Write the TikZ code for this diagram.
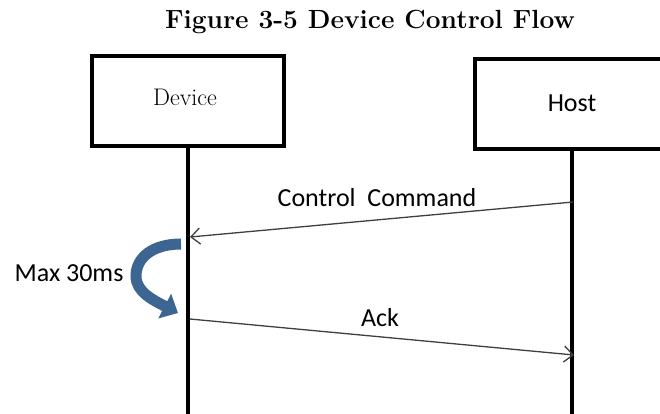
\documentclass[tikz,border=0pt]{standalone}
\usepackage{fontspec}
\newfontfamily\calibri{Carlito}
\usetikzlibrary{arrows.meta}
\definecolor{curveblue}{HTML}{3D6592}
\definecolor{msggray}{HTML}{3F3F3F}
\begin{document}
\begin{tikzpicture}[x=1pt, y=-1pt,
	actor/.style={draw, line width=4pt, minimum width=192pt, minimum height=90pt, inner sep=0pt},
	life/.style={line width=4.5pt},
	msg/.style={draw=msggray, line width=1.3pt, -{Straight Barb[length=9pt, width=16pt, line width=1.3pt]}},
	lbl/.style={font=\calibri\fontsize{26}{30}\selectfont},
	waitarrow/.style={draw=curveblue, line width=11pt, -{Triangle[length=15pt, width=27pt]}}]
	\useasboundingbox (0,0) rectangle (660,413);
	\node (title) at (370,22) {\fontsize{26.3}{31}\selectfont\bfseries Figure 3-5 Device Control Flow};
	\node[actor] (dev) at (188,101) {};
	\node[actor, minimum width=194pt] (host) at (572,104) {};
	\node at (185,97) {\fontsize{24}{28}\selectfont Device};
	\node[lbl] at (572,103) {Host};
	\path (dev.south |- 0,420) coordinate (devend) (host.south |- 0,420) coordinate (hostend)
		(573,202) coordinate (cmdA) (190,237) coordinate (cmdB)
		(190,319) coordinate (ackA) (574,355) coordinate (ackB)
		(181,244) coordinate (w1) (136,276) coordinate (wmid) (178,313) coordinate (w2);
	\draw[life] (dev.south)--(devend);
	\draw[life] (host.south)--(hostend);
	\draw[msg] (cmdA)--(cmdB);
	\node[lbl] (cmd) at (377,198) {Control\ \ Command};
	\draw[msg] (ackA)--(ackB);
	\node[lbl] (ack) at (380,318) {Ack};
	\draw[waitarrow] (w1) .. controls (152,244) and (136,258) .. (wmid)
		.. controls (136,292) and (153,300) .. (w2);
	\node[lbl] (max) at (69,273) {Max 30ms};
\end{tikzpicture}
\end{document}
